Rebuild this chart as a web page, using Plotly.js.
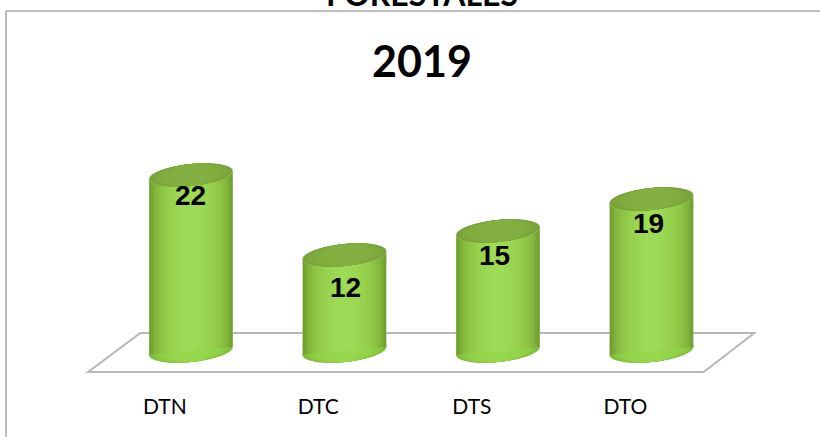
<!DOCTYPE html>
<html><head><meta charset="utf-8">
<script src="https://cdn.plot.ly/plotly-3.0.1.min.js"></script>
<style>html,body{margin:0;padding:0;background:#fff;overflow:hidden}</style>
</head><body><div id="chart" style="width:820px;height:437px"></div>
<script>
var categories = ["DTN","DTC","DTS","DTO"];
var values = [22,12,15,19];
var labelOffsets = [2.6,4.1,3.1,3.1];
var labelShift = [0,0.01,-0.02,-0.02];
var widths = [0.548,0.54,0.52,0.49,0.46,0.42,0.38,0.33,0.28,0.22,0.16,0.09];
var shades = ["#a3c07a","#6f9c30","#78a834","#7fb239","#85ba3e","#8bc142","#90c746","#94cc4a","#97d14d","#99d550","#9bd853","#9dda55"];
var floorShades = ["#a6d070","#7db93a","#83c03c","#88c640","#8cca43","#8fce46","#91d148","#93d34a","#95d54c","#96d64d","#97d74e","#98d84f"];
var capShades = ["#a8bf86","#769f38","#79a33a","#7ba63b","#7da93c","#7fab3d","#80ad3e","#81ae3f","#82af3f","#83b040","#83b040","#84b041"];
var ry = 1.375, tilt = 0.5, lift = 0.5;

var positions = categories.map(function(_,i){return i;});
var traces = widths.map(function(w,k){
  return {type:"bar",x:positions,y:values.map(function(v){return v-2*lift;}),base:lift,width:w,
    marker:{color:shades[k],line:{width:0}},hoverinfo:"skip",showlegend:false};
});

function ellipse(cx,cy,w){
  var pts=[];
  var t0=tilt*w/widths[0];
  for(var t=0;t<48;t++){
    var a=t/48*2*Math.PI;
    var dx=w/2*Math.cos(a);
    var dy=ry*Math.sin(a)+t0*Math.cos(a);
    pts.push((t?"L":"M")+(cx+dx).toFixed(4)+","+(cy+dy).toFixed(4));
  }
  return pts.join(" ")+" Z";
}
function quad(cx,cy,w,toward){
  var t0=tilt*w/widths[0];
  return "M"+(cx-w/2).toFixed(4)+","+(cy-t0).toFixed(4)+" L"+(cx+w/2).toFixed(4)+","+(cy+t0).toFixed(4)+
    " L"+(cx+w/2).toFixed(4)+","+(cy+toward).toFixed(4)+" L"+(cx-w/2).toFixed(4)+","+(cy+toward).toFixed(4)+" Z";
}
var shapes=[];
shapes.push({type:"path",xref:"x",yref:"y",layer:"below",
  path:"M-0.67,-2.625 L-0.33,2.25 L3.67,2.25 L3.34,-2.625 Z",line:{color:"#b7b7ba",width:2},fillcolor:"rgba(0,0,0,0)"});
// bottom caps
positions.forEach(function(p){
  widths.forEach(function(w,k){
    shapes.push({type:"path",xref:"x",yref:"y",layer:"below",path:ellipse(p,0,w),fillcolor:floorShades[k],line:{width:0}});
    shapes.push({type:"path",xref:"x",yref:"y",layer:"below",path:quad(p,0,w,1.0),fillcolor:shades[k],line:{width:0}});
  });
});
// top caps
positions.forEach(function(p,i){
  widths.forEach(function(w,k){
    shapes.push({type:"path",xref:"x",yref:"y",layer:"above",path:quad(p,values[i],w,-1.0),fillcolor:shades[k],line:{width:0}});
  });
  widths.forEach(function(w,k){
    shapes.push({type:"path",xref:"x",yref:"y",layer:"above",path:ellipse(p,values[i],w),fillcolor:capShades[k],line:{width:0}});
  });
});
// frame
shapes.push({type:"line",xref:"paper",yref:"paper",x0:6/820,x1:6/820,y0:-45/392,y1:1-11/392,line:{color:"#a9a9a9",width:1.5}});
shapes.push({type:"line",xref:"paper",yref:"paper",x0:6/820,x1:1,y0:1-11/392,y1:1-11/392,line:{color:"#a9a9a9",width:1.5}});

var annotations = categories.map(function(c,i){
  return {xref:"x",yref:"y",x:positions[i]+labelShift[i],y:values[i]-labelOffsets[i],text:"<b>"+values[i]+"</b>",showarrow:false,
    font:{family:"Liberation Sans",size:28,color:"#000"}};
});
annotations.push({xref:"paper",yref:"paper",x:422/820,y:1+6/392,yanchor:"middle",text:"<b>FORESTALES</b>",showarrow:false,
  font:{family:"Lato",size:32,color:"#000"}});

var layout={
  width:820,height:437,paper_bgcolor:"#fff",plot_bgcolor:"rgba(0,0,0,0)",barmode:"overlay",showlegend:false,
  margin:{l:0,r:0,t:0,b:45,pad:0},
  title:{text:"<b>2019</b>",font:{family:"Lato",size:43,color:"#000"},x:422/820,xanchor:"center",y:1-62/437,yanchor:"middle",xref:"paper",yref:"container"},
  xaxis:{range:[-1.244,4.098],tickmode:"array",tickvals:positions.map(function(p){return p-0.17;}),ticktext:categories,
    showgrid:false,zeroline:false,showline:false,ticks:"",tickfont:{family:"Lato",size:21,color:"#000"}},
  yaxis:{range:[-5.125,43.875],visible:false,showgrid:false,zeroline:false},
  shapes:shapes,annotations:annotations
};
Plotly.newPlot("chart",traces,layout,{displayModeBar:false,staticPlot:true});
</script></body></html>
